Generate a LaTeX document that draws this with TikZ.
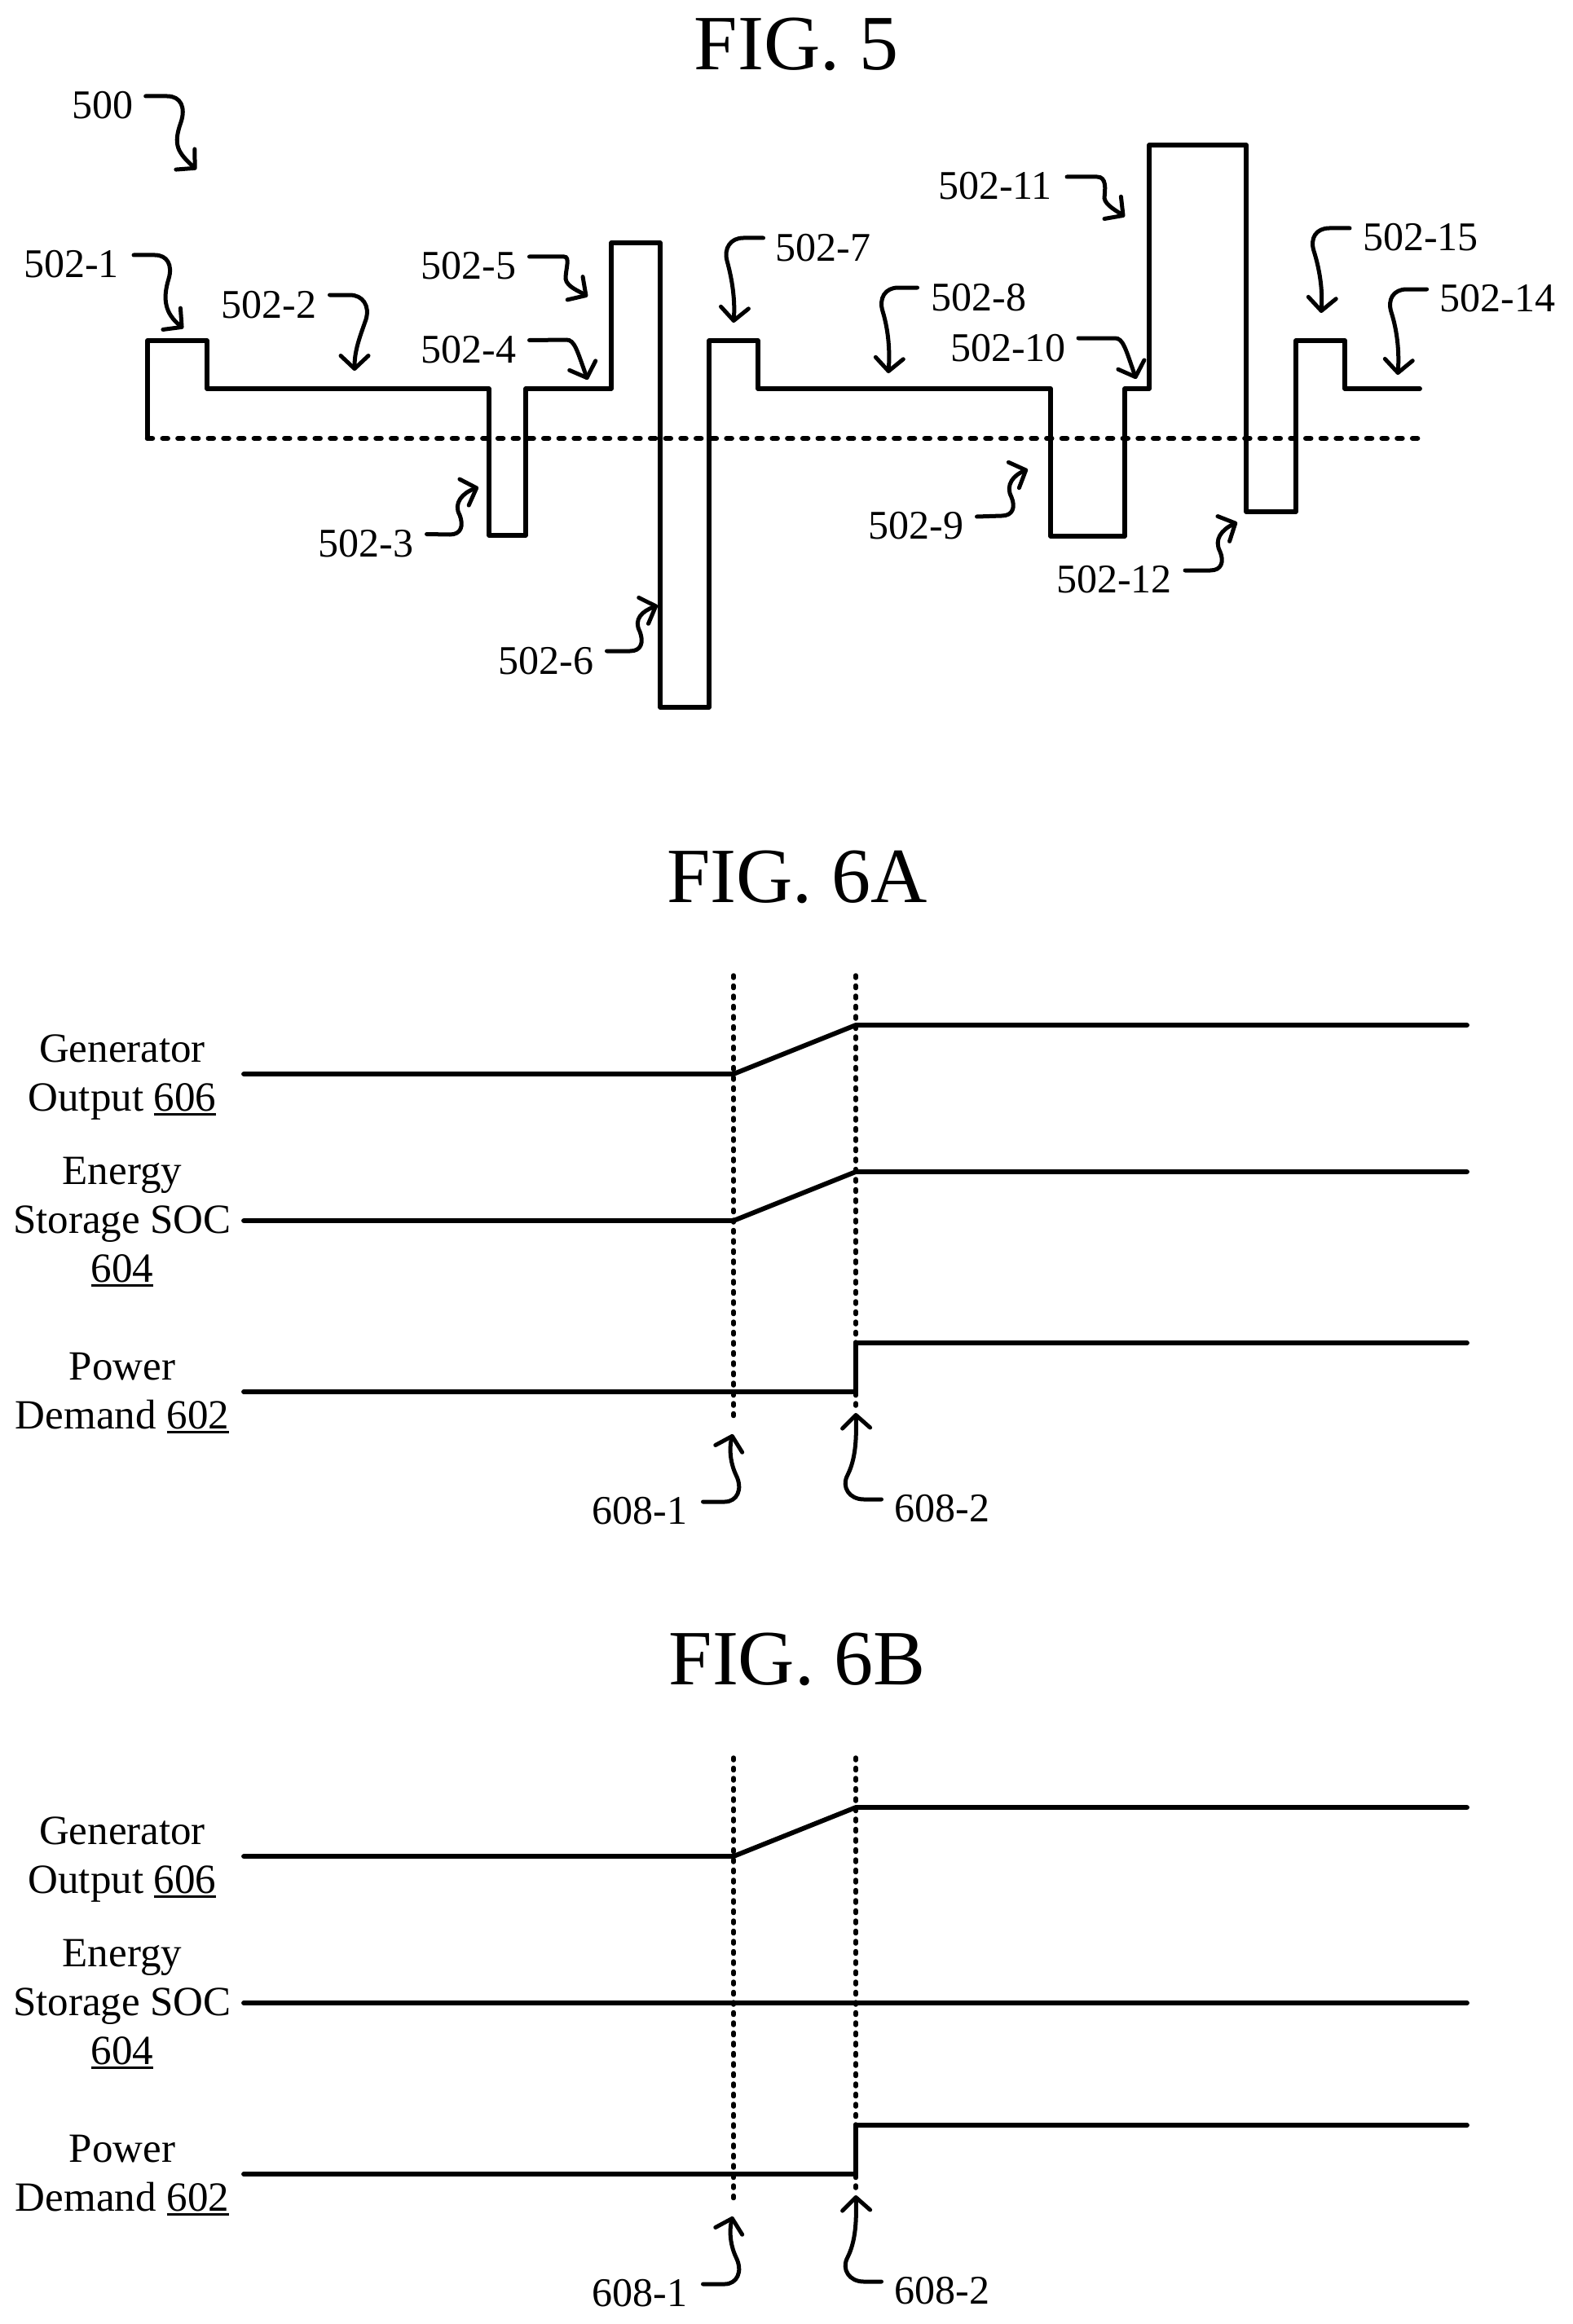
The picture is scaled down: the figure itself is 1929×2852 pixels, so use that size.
\documentclass[tikz,border=0pt]{standalone}
\usepackage{fontspec}
\setmainfont{Liberation Serif}
\usetikzlibrary{arrows.meta,calc}
\newcommand{\ulnum}[1]{\setbox0=\hbox{#1}\rlap{\rule[-6pt]{\wd0}{3.3pt}}#1}

\begin{document}
\begin{tikzpicture}[
  x=1pt,
  y=-1pt,
  trace/.style={
    draw,
    line width=5.8pt,
    line join=round,
    line cap=round
    },
  hdots/.style={
    draw,
    line width=6.5pt,
    line cap=round,
    dash pattern=on 6pt off 12.7pt
    },
  vdots/.style={
    draw,
    line width=5.5pt,
    line cap=round,
    dash pattern=on 3pt off 9.5pt
    },
  lead/.style={
    draw,
    line width=5pt,
    line cap=round,
    -{Straight Barb[length=16pt,width=34pt,round]}
    },
  reflabel/.style={
    inner sep=0pt,
    font=\fontsize{50pt}{60pt}\selectfont
  },
  sidelabel/.style={
    inner sep=0pt,
    anchor=base,
    align=center,
    font=\fontsize{51pt}{60pt}\selectfont
  },
  figlabel/.style={
    inner sep=0pt,
    anchor=base,
    font=\fontsize{96pt}{110pt}\selectfont
  }
]
\useasboundingbox (0,0) rectangle (1929,2852);

\node[figlabel] (fig5) at (977,86) {FIG. 5};

\foreach \Nam/\Txt/\Px/\Py in {
  lab500/500/126/129, lab1/502-1/87.5/324, lab2/502-2/330/374, lab3/502-3/449/667.5,
  lab4/502-4/575/429.5, lab5/502-5/575/326, lab6/502-6/670/811, lab7/502-7/1010/304,
  lab8/502-8/1201/365, lab9/502-9/1124/645, lab10/502-10/1237/427, lab11/502-11/1221/228,
  lab12/502-12/1367/711, lab14/502-14/1837.6/366, lab15/502-15/1743/291}
  \node[reflabel] (\Nam) at (\Px,\Py) {\Txt};

% pulse trace
\draw[hdots] (181,538) -- (1742,538);
\draw[trace] (181,538) |- (254,418) |- (600,477) |- (645,657) |- (750,477) |- (810,298)
  |- (870,868) |- (930,418) |- (1289,477) |- (1380,658) |- (1410,477) |- (1529,178)
  |- (1590,628) |- (1650,418) |- (1742,477);

\draw[lead] ([xshift=15pt,yshift=11pt]lab500.east) -- (205,118) .. controls (222,118) and (228,132) .. (222,150) .. controls (212,178) and (218,187) .. (241,208);
\draw[lead] ([xshift=18pt,yshift=11pt]lab1.east) -- (190,313) .. controls (205,313) and (212,325) .. (207,342) .. controls (199,368) and (203,385) .. (225,403);
\draw[lead] ([xshift=16pt,yshift=12pt]lab2.east) -- (429,362) .. controls (445,362) and (454,375) .. (449,392) .. controls (441,415) and (435,430) .. (435,455);
\draw[lead] ([xshift=16pt,yshift=12pt]lab3.east) -- (552,656) .. controls (566,656) and (569,645) .. (564,632) .. controls (556,618) and (567,605) .. (587,598);
\draw[lead] ([xshift=16pt,yshift=12pt]lab4.east) -- (695,417) .. controls (705,417) and (708,430) .. (721,466);
\draw[lead] ([xshift=16pt,yshift=11pt]lab5.east) -- (692,315) .. controls (700,315) and (694,330) .. (694,342) .. controls (695,352) and (712,358) .. (721,364);
\draw[lead] ([xshift=16pt,yshift=12pt]lab6.east) -- (773,799) .. controls (787,799) and (790,788) .. (785,775) .. controls (777,760) and (788,750) .. (807,743);
\draw[lead] ([xshift=-15pt,yshift=12pt]lab7.west) -- (912,292) .. controls (896,292) and (888,305) .. (892,320) .. controls (899,345) and (902,370) .. (900,396);
\draw[lead] ([xshift=-17pt,yshift=12pt]lab8.west) -- (1102,353) .. controls (1086,353) and (1078,366) .. (1083,382) .. controls (1090,405) and (1092,430) .. (1090,458);
\draw[lead] ([xshift=16pt,yshift=11pt]lab9.east) -- (1229,633) .. controls (1243,633) and (1246,622) .. (1241,610) .. controls (1233,595) and (1244,583) .. (1261,576);
\draw[lead] ([xshift=15pt,yshift=12pt]lab10.east) -- (1368,415) .. controls (1378,415) and (1381,428) .. (1394,465);
\draw[lead] ([xshift=18pt,yshift=11pt]lab11.east) -- (1346,217) .. controls (1358,217) and (1356,232) .. (1355,243) .. controls (1356,252) and (1372,260) .. (1380,266);
\draw[lead] ([xshift=16pt,yshift=11pt]lab12.east) -- (1485,700) .. controls (1499,700) and (1502,689) .. (1497,677) .. controls (1489,662) and (1499,650) .. (1518,641);
\draw[lead] ([xshift=-16pt,yshift=11pt]lab14.west) -- (1726,355) .. controls (1710,355) and (1702,367) .. (1707,383) .. controls (1714,405) and (1717,430) .. (1715,460);
\draw[lead] ([xshift=-16pt,yshift=11pt]lab15.west) -- (1631,280) .. controls (1615,280) and (1607,292) .. (1612,308) .. controls (1619,330) and (1623,355) .. (1621,384);

% both timing panels, 960 apart
\foreach \Pan/\Off/\Ttl in {a/0/FIG. 6A,b/960/FIG. 6B}{
  \begin{scope}[yshift=-\Off pt]
    \node[figlabel] (fig\Pan) at (978,1107) {\Ttl};
    \node[sidelabel] (gen\Pan) at (150,1363) {Generator\\Output \ulnum{606}};
    \node[sidelabel] (soc\Pan) at (150,1573) {Energy\\Storage SOC\\\ulnum{604}};
    \node[sidelabel] (dem\Pan) at (150,1753) {Power\\Demand \ulnum{602}};
    \draw[vdots] (900,1197) -- (900,1740);
    \draw[vdots] (1050,1197) -- (1050,1728);
    \draw[trace] (299,1318) -- (900,1318) -- (1050,1258) -- (1800,1258);
    \draw[trace] (299,1708) -- (1050,1708) |- (1800,1648);
    \node[reflabel] (first\Pan) at (785,1854) {608-1};
    \node[reflabel] (second\Pan) at (1156,1851) {608-2};
    \draw[lead] ([xshift=19pt,yshift=11pt]first\Pan.east) -- (889,1843) .. controls (904,1843) and (912,1828) .. (903,1810) .. controls (895,1793) and (895,1775) .. (899,1760);
    \draw[lead] ([xshift=-16pt,yshift=11pt]second\Pan.west) -- (1060,1840) .. controls (1042,1840) and (1032,1825) .. (1040,1810) .. controls (1050,1790) and (1051,1765) .. (1050,1734);
  \end{scope}
}
\draw[trace] (299,1498) -- (900,1498) -- (1050,1438) -- (1800,1438);
\draw[trace] (299,2458) -- (1800,2458);

\end{tikzpicture}
\end{document}
